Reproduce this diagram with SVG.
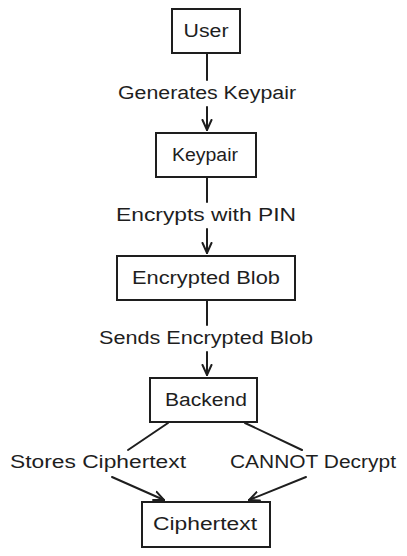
<svg xmlns="http://www.w3.org/2000/svg" width="407" height="556" viewBox="0 0 407 556">
<style>
.box{fill:#ffffff;stroke:#1e1e1e;stroke-width:2}
.lbl{font-family:"Liberation Sans",Arial,sans-serif;font-size:18px;fill:#1e1e1e;text-anchor:middle;dominant-baseline:central}
.edge{fill:none;stroke:#1e1e1e;stroke-width:2;stroke-linecap:round}
</style>
<defs>
<marker id="arr" viewBox="0 0 12 12" refX="11" refY="6" markerWidth="12" markerHeight="12" markerUnits="userSpaceOnUse" orient="auto">
<path d="M1,1.5 L11,6 L1,10.5" fill="none" stroke="#1e1e1e" stroke-width="2" stroke-linecap="round"/>
</marker>
</defs>
<rect width="407" height="556" fill="#ffffff"/>
<g id="connectors">
<path class="edge" d="M207,54 L207,80"/>
<path class="edge" d="M207,107 L207,130" marker-end="url(#arr)"/>
<path class="edge" d="M207,178 L207,202"/>
<path class="edge" d="M207,229 L207,253" marker-end="url(#arr)"/>
<path class="edge" d="M207,301 L207,325"/>
<path class="edge" d="M207,352 L207,375" marker-end="url(#arr)"/>
<path class="edge" d="M168,423 L128,450"/>
<path class="edge" d="M112,477 L164,500" marker-end="url(#arr)"/>
<path class="edge" d="M245,423 L302,450"/>
<path class="edge" d="M306,477 L249,500" marker-end="url(#arr)"/>
<text class="lbl" x="207" y="93" textLength="178" lengthAdjust="spacingAndGlyphs">Generates Keypair</text>
<text class="lbl" x="206" y="215" textLength="180" lengthAdjust="spacingAndGlyphs">Encrypts with PIN</text>
<text class="lbl" x="206" y="338" textLength="214" lengthAdjust="spacingAndGlyphs">Sends Encrypted Blob</text>
<text class="lbl" x="98" y="462" textLength="176" lengthAdjust="spacingAndGlyphs">Stores Ciphertext</text>
<text class="lbl" x="313" y="462" textLength="166" lengthAdjust="spacingAndGlyphs">CANNOT Decrypt</text>
</g>
<g id="node-user">
<rect class="box" x="172" y="9" width="68" height="44"/>
<text class="lbl" x="206" y="31" textLength="45" lengthAdjust="spacingAndGlyphs">User</text>
</g>
<g id="node-keypair">
<rect class="box" x="156" y="133" width="100" height="44"/>
<text class="lbl" x="205" y="155" textLength="66" lengthAdjust="spacingAndGlyphs">Keypair</text>
</g>
<g id="node-blob">
<rect class="box" x="117" y="256" width="178" height="44"/>
<text class="lbl" x="206" y="278" textLength="148" lengthAdjust="spacingAndGlyphs">Encrypted Blob</text>
</g>
<g id="node-backend">
<rect class="box" x="150" y="378" width="107" height="44"/>
<text class="lbl" x="206" y="400" textLength="82" lengthAdjust="spacingAndGlyphs">Backend</text>
</g>
<g id="node-ciphertext">
<rect class="box" x="142" y="502" width="128" height="45"/>
<text class="lbl" x="205" y="524" textLength="104" lengthAdjust="spacingAndGlyphs">Ciphertext</text>
</g>
</svg>
